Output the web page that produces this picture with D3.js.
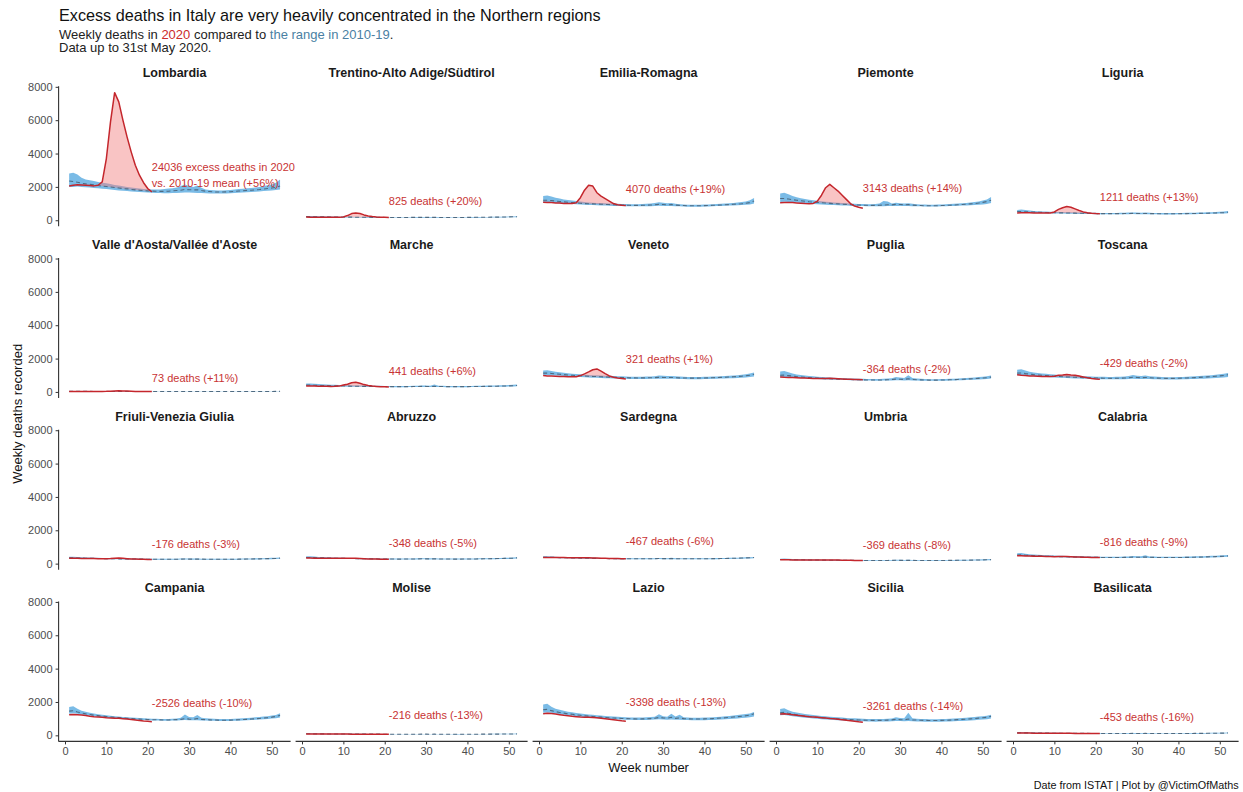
<!DOCTYPE html>
<html>
<head>
<meta charset="utf-8">
<script src="https://cdn.jsdelivr.net/npm/d3@7"></script>
<style>
  body { margin: 0; background: #fff; }
  text { font-family: "Liberation Sans", Arial, sans-serif; }
</style>
</head>
<body>
<svg id="chart" width="1243" height="792"></svg>
<script>
// regions in facet order
var regions = ["Lombardia", "Trentino-Alto Adige/Südtirol", "Emilia-Romagna", "Piemonte", "Liguria",
  "Valle d'Aosta/Vallée d'Aoste", "Marche", "Veneto", "Puglia", "Toscana",
  "Friuli-Venezia Giulia", "Abruzzo", "Sardegna", "Umbria", "Calabria",
  "Campania", "Molise", "Lazio", "Sicilia", "Basilicata"];

var labelText = [["24036 excess deaths in 2020", "vs. 2010-19 mean (+56%)"], ["825 deaths (+20%)"], ["4070 deaths (+19%)"], ["3143 deaths (+14%)"], ["1211 deaths (+13%)"],
  ["73 deaths (+11%)"], ["441 deaths (+6%)"], ["321 deaths (+1%)"], ["-364 deaths (-2%)"], ["-429 deaths (-2%)"],
  ["-176 deaths (-3%)"], ["-348 deaths (-5%)"], ["-467 deaths (-6%)"], ["-369 deaths (-8%)"], ["-816 deaths (-9%)"],
  ["-2526 deaths (-10%)"], ["-216 deaths (-13%)"], ["-3398 deaths (-13%)"], ["-3261 deaths (-14%)"], ["-453 deaths (-16%)"]];
var labelY = [2700, 1145, 1870, 1930, 1390, 840, 1265, 1990, 1385, 1750,
  1145, 1205, 1325, 1085, 1265, 1930, 1205, 1990, 1750, 1085];
var labelWeek = 21;

var weeks = [1,2,3,4,5,6,7,8,9,10,11,12,13,14,15,16,17,18,19,20,21,22,23,24,25,26,
  27,28,29,30,31,32,33,34,35,36,37,38,39,40,41,42,43,44,45,46,47,48,49,50,51,52];
var xTicks = [0, 10, 20, 30, 40, 50];
var yTicks = [0, 2000, 4000, 6000, 8000];

// weekly deaths 2020 (weeks 1-21)
var deaths2020 = [
  [2050,2100,2130,2120,2100,2080,2060,2100,2300,3700,5900,7650,7100,6000,5000,4100,3300,2700,2250,1900,1700],
  [190,185,185,180,180,180,180,180,185,200,280,400,440,400,320,260,220,195,180,175,170],
  [1080,1060,1060,1040,1030,1010,1000,1000,1050,1350,1800,2100,2050,1650,1450,1300,1150,1000,930,900,880],
  [1050,1060,1070,1060,1040,1020,1000,990,1010,1150,1500,1950,2150,1950,1750,1500,1250,1000,850,780,720],
  [440,445,450,445,440,435,430,430,440,500,650,750,820,780,680,580,500,450,420,400,390],
  [32,30,31,30,29,29,30,30,31,35,45,60,65,60,50,40,33,28,26,25,24],
  [360,355,350,345,340,335,330,335,350,420,460,550,580,520,440,390,350,330,315,305,295],
  [980,960,950,940,930,920,910,905,910,980,1080,1200,1330,1380,1250,1100,960,880,830,800,780],
  [900,880,870,860,850,840,830,820,810,800,800,810,815,805,790,775,765,755,745,740,735],
  [1030,1000,980,960,950,940,930,920,920,940,1000,1020,1050,1020,1000,950,900,850,810,780,760],
  [330,320,320,315,315,310,305,300,300,300,310,330,340,320,300,285,275,265,258,252,248],
  [340,335,330,330,325,320,318,322,330,325,320,330,320,305,295,285,280,275,270,265,262],
  [370,372,372,368,365,362,360,358,355,352,350,348,345,338,330,322,315,308,302,298,295],
  [230,228,226,224,222,220,218,216,215,214,216,220,222,218,212,206,200,196,192,190,188],
  [480,475,465,460,450,445,440,432,425,420,425,430,428,418,405,395,385,378,372,368,365],
  [1230,1250,1240,1220,1190,1150,1120,1100,1080,1050,1040,1030,1020,1000,980,950,920,890,860,840,820],
  [85,84,84,82,80,80,78,78,76,75,74,72,72,71,70,69,68,67,66,66,65],
  [1300,1330,1310,1280,1240,1200,1170,1140,1120,1100,1090,1080,1070,1050,1030,1000,970,940,900,870,850],
  [1280,1290,1270,1240,1210,1180,1150,1120,1100,1080,1060,1040,1010,990,960,930,900,870,840,810,790],
  [140,138,136,134,132,130,128,127,126,125,124,122,120,118,116,115,114,113,112,111,110]
];

// 2010-19 weekly mean
var meanDeaths = [
  [2350,2320,2280,2220,2180,2150,2120,2080,2050,2020,1990,1960,1930,
   1900,1880,1850,1820,1800,1780,1760,1750,1740,1730,1730,1740,1760,
   1780,1800,1850,1830,1820,1830,1780,1740,1720,1700,1690,1690,1700,
   1710,1730,1750,1770,1790,1800,1820,1840,1870,1900,1930,1970,2050],
  [215,215,210,205,200,200,195,195,190,190,185,185,180,
   180,178,176,174,172,170,168,166,165,165,165,166,168,
   170,172,174,172,170,170,168,166,165,165,165,166,168,
   170,172,175,178,180,182,185,188,190,195,200,205,210],
  [1200,1200,1180,1150,1120,1100,1080,1060,1040,1020,1000,990,980,
   970,960,950,940,930,920,910,900,895,890,890,895,900,
   910,925,950,940,930,935,910,890,880,870,865,865,870,
   875,885,895,905,915,925,940,955,970,990,1020,1060,1150],
  [1300,1300,1270,1230,1200,1170,1140,1110,1090,1070,1050,1030,1010,
   995,980,965,950,935,920,910,900,895,890,890,895,910,
   930,920,950,940,930,935,910,890,880,870,865,865,870,
   880,890,900,915,930,945,960,980,1000,1030,1070,1120,1200],
  [520,520,510,500,490,480,470,465,455,450,445,440,435,
   430,425,420,415,410,405,400,398,396,395,395,396,398,
   400,405,410,408,405,408,400,395,392,390,388,388,390,
   392,395,398,402,406,410,415,420,428,436,446,458,480],
  [33,33,32,32,31,31,30,30,29,29,28,28,28,
   27,27,27,26,26,26,25,25,25,25,25,25,25,
   26,26,26,26,26,26,25,25,25,25,25,25,25,
   26,26,26,27,27,27,28,28,29,29,30,31,32],
  [410,410,400,390,385,380,370,365,360,355,350,345,340,
   338,335,332,330,327,325,322,320,318,317,317,318,320,
   323,327,333,330,328,332,326,322,320,318,317,317,318,
   320,322,325,328,332,336,340,345,350,356,364,374,390],
  [1130,1130,1110,1080,1060,1040,1020,1000,985,970,955,940,930,
   920,910,900,890,880,870,860,852,846,842,840,842,846,
   852,860,875,870,862,868,855,845,838,832,828,828,832,
   838,845,852,862,872,882,895,910,925,945,970,1000,1060],
  [1000,1010,980,950,920,900,880,860,845,830,815,800,790,
   780,770,760,752,745,738,730,725,720,716,714,716,722,
   730,742,770,760,750,790,748,735,725,716,710,708,710,
   714,720,728,738,748,760,772,786,800,816,834,856,890],
  [1130,1140,1100,1070,1040,1020,1000,980,960,945,930,915,900,
   890,880,870,860,850,842,835,828,822,818,816,818,824,
   834,848,880,868,855,870,850,838,828,820,815,813,815,
   820,827,836,847,860,874,888,904,920,940,962,990,1030],
  [345,345,338,330,325,320,315,310,305,300,296,292,288,
   284,280,277,274,271,268,265,263,261,260,260,261,263,
   266,270,275,273,270,272,268,265,263,261,260,260,261,
   263,265,268,271,275,279,283,288,293,299,306,314,328],
  [370,372,362,352,345,338,332,326,320,315,310,305,301,
   297,293,290,287,284,281,278,276,274,273,273,274,276,
   279,283,290,287,284,288,281,278,276,274,273,273,274,
   276,279,282,286,290,294,299,304,310,316,324,333,348],
  [385,385,378,370,362,356,350,344,338,333,328,323,318,
   314,310,306,303,300,297,294,292,290,289,289,290,292,
   295,299,305,302,300,303,297,294,292,290,289,289,290,
   292,295,298,302,306,311,316,321,327,334,342,352,368],
  [250,250,245,240,235,230,226,222,218,215,212,209,206,
   203,201,199,197,195,193,191,190,189,188,188,189,190,
   192,195,200,198,196,199,194,192,190,189,188,188,189,
   190,192,194,197,200,203,206,210,214,219,224,230,240],
  [520,530,505,490,478,465,455,445,437,430,423,416,410,
   404,398,393,388,383,379,375,372,369,367,366,367,370,
   374,380,392,386,382,400,380,375,371,368,366,365,366,
   368,371,375,380,386,392,398,405,413,422,432,444,460],
  [1450,1480,1400,1340,1290,1250,1210,1180,1150,1125,1100,1080,1060,
   1040,1020,1005,990,975,962,950,940,932,926,922,924,930,
   940,955,1000,975,960,1010,955,940,928,918,910,906,908,
   914,922,932,945,960,976,994,1014,1036,1060,1090,1130,1200],
  [92,92,90,88,86,84,82,81,80,78,77,76,75,
   74,73,72,71,70,70,69,68,68,67,67,67,68,
   68,69,70,70,69,70,69,68,68,67,67,67,67,
   68,68,69,70,71,72,73,74,75,77,79,81,85],
  [1530,1560,1480,1420,1370,1330,1290,1260,1230,1200,1175,1150,1130,
   1110,1090,1072,1056,1040,1026,1014,1003,994,987,983,985,992,
   1004,1020,1070,1045,1030,1080,1020,1045,1000,988,980,976,978,
   985,994,1005,1020,1036,1054,1074,1096,1120,1146,1176,1214,1290],
  [1350,1380,1320,1270,1230,1190,1160,1130,1105,1080,1060,1040,1020,
   1003,987,972,958,945,933,922,912,904,898,894,896,902,
   912,926,960,940,928,980,925,915,905,897,891,888,890,
   896,904,914,926,940,955,972,990,1010,1032,1056,1084,1140],
  [150,152,148,144,140,137,134,132,130,128,126,124,122,
   120,119,118,116,115,114,113,112,111,110,110,110,111,
   112,113,115,114,113,115,112,111,110,110,109,109,110,
   110,111,112,114,115,117,119,121,124,127,130,134,140]
];

// 2010-19 weekly maximum
var highDeaths = [
  [2800,2850,2750,2550,2450,2400,2350,2300,2250,2220,2180,2120,2080,
   2040,2000,1970,1940,1910,1880,1860,1850,1840,1850,1870,1900,1920,
   1960,2050,2150,2050,2000,2080,1950,1850,1820,1800,1790,1780,1800,
   1820,1840,1870,1890,1920,1940,1970,2000,2050,2100,2150,2250,2450],
  [250,255,250,240,235,230,225,220,215,212,208,205,200,
   198,195,193,190,188,186,184,182,180,180,182,184,186,
   190,195,200,195,190,192,188,184,182,180,180,182,184,
   186,190,192,195,198,200,203,206,210,215,222,230,240],
  [1450,1480,1420,1350,1300,1250,1210,1180,1150,1120,1090,1070,1050,
   1040,1030,1020,1010,1000,990,980,970,960,960,965,975,990,
   1010,1040,1080,1050,1020,1040,990,960,945,935,930,930,935,
   940,950,960,975,990,1000,1020,1040,1060,1090,1130,1200,1330],
  [1600,1650,1560,1450,1380,1320,1270,1230,1200,1170,1140,1110,1090,
   1070,1050,1035,1020,1005,990,980,970,965,965,975,1000,1150,
   1120,1010,1050,1020,1000,1020,985,960,950,940,935,935,940,
   950,960,975,990,1005,1020,1040,1060,1090,1130,1180,1250,1400],
  [620,640,610,580,560,545,530,520,510,500,495,490,485,
   478,470,465,460,455,450,445,440,437,436,437,440,445,
   450,460,470,462,455,462,448,440,436,433,430,430,432,
   435,440,445,450,455,460,466,472,480,490,505,520,550],
  [45,46,44,42,41,40,39,38,37,37,36,36,35,
   35,34,34,33,33,33,32,32,32,32,32,32,33,
   33,34,34,34,34,34,33,33,32,32,32,32,33,
   33,34,34,35,35,36,36,37,38,38,40,41,43],
  [500,510,490,470,455,445,435,425,418,410,402,396,390,
   385,380,376,372,368,364,360,357,355,354,355,358,362,
   368,375,390,380,375,440,372,365,360,357,355,355,357,
   360,363,367,372,376,380,385,390,396,404,414,428,450],
  [1280,1300,1260,1210,1180,1150,1120,1095,1075,1055,1035,1020,1005,
   995,985,975,965,955,945,935,925,918,914,912,915,922,
   932,945,980,965,950,960,935,920,910,902,896,896,900,
   906,914,922,932,944,956,970,986,1005,1030,1060,1100,1170],
  [1230,1260,1180,1100,1050,1010,980,955,935,915,895,880,865,
   852,840,828,818,808,800,792,785,780,776,775,780,790,
   805,825,900,860,840,1000,830,800,785,772,765,762,765,
   770,778,787,798,810,824,838,854,872,892,915,945,990],
  [1330,1360,1280,1210,1170,1140,1110,1085,1060,1040,1020,1005,990,
   978,966,955,945,935,926,918,910,904,900,900,905,915,
   930,950,1010,970,955,990,940,920,905,895,888,885,888,
   894,902,912,924,938,952,968,986,1005,1030,1058,1090,1140],
  [410,420,400,385,375,365,358,350,344,338,333,328,323,
   318,314,310,306,302,298,295,292,290,289,289,291,294,
   298,303,312,307,303,308,300,296,293,291,290,290,291,
   293,296,299,303,307,312,317,323,330,338,347,358,375],
  [440,450,425,405,392,382,373,365,358,351,345,340,335,
   330,326,322,318,314,311,308,305,303,302,302,304,307,
   311,316,330,320,316,325,312,308,305,303,302,302,303,
   306,309,312,316,320,325,330,336,343,350,358,368,385],
  [440,450,430,415,405,395,387,380,373,366,360,355,350,
   345,340,336,332,328,325,322,319,317,316,316,318,321,
   325,330,340,335,330,360,327,322,319,317,316,316,318,
   320,323,327,331,336,341,347,353,360,368,377,388,405],
  [300,305,290,280,272,265,259,253,248,244,240,236,233,
   230,227,225,222,220,218,216,214,213,212,212,213,215,
   218,222,232,226,222,230,220,216,214,213,212,212,213,
   215,217,220,223,226,230,234,238,243,249,256,264,278],
  [620,640,600,570,550,535,520,507,497,488,480,472,465,
   458,451,445,439,434,429,424,420,417,415,414,416,420,
   426,434,460,445,436,500,432,424,418,414,411,410,411,
   414,418,423,429,436,443,450,458,467,478,490,503,520],
  [1700,1750,1600,1480,1410,1360,1310,1270,1235,1205,1175,1150,1128,
   1105,1085,1068,1050,1035,1020,1008,997,988,982,978,982,990,
   1005,1060,1250,1100,1080,1220,1060,1025,1005,990,980,975,978,
   986,996,1008,1022,1040,1058,1078,1100,1125,1152,1185,1225,1320],
  [115,118,112,108,105,102,100,98,96,94,92,91,90,
   89,88,87,86,85,84,83,82,82,81,81,81,82,
   83,84,86,85,84,86,84,83,82,81,81,81,81,
   82,83,84,85,86,87,88,90,92,94,96,99,104],
  [1850,1900,1720,1600,1530,1470,1420,1380,1345,1312,1282,1255,1230,
   1207,1185,1165,1147,1130,1114,1100,1087,1076,1068,1064,1068,1078,
   1094,1115,1270,1150,1120,1300,1130,1240,1090,1068,1058,1053,1056,
   1064,1075,1088,1104,1122,1142,1164,1188,1214,1243,1276,1316,1400],
  [1580,1620,1500,1420,1370,1320,1280,1245,1215,1187,1162,1140,1118,
   1098,1080,1063,1047,1032,1018,1005,994,985,978,974,977,985,
   998,1015,1090,1040,1020,1350,1020,1000,985,976,969,966,968,
   975,984,995,1008,1024,1041,1060,1080,1102,1126,1152,1182,1230],
  [185,190,180,173,168,164,160,157,154,151,149,147,145,
   143,141,139,138,136,135,134,133,132,131,131,131,132,
   134,136,140,138,136,140,134,132,131,130,130,130,130,
   131,132,134,136,138,140,142,145,148,152,156,160,168]
];

// 2010-19 weekly minimum
var lowDeaths = [
  [2000,2000,2020,2000,1980,1960,1940,1920,1890,1870,1840,1820,1790,
   1770,1750,1730,1710,1690,1680,1660,1650,1640,1630,1620,1620,1630,
   1640,1650,1660,1660,1650,1640,1630,1620,1610,1600,1600,1600,1610,
   1620,1630,1650,1670,1680,1700,1710,1730,1750,1770,1790,1820,1850],
  [185,185,182,178,175,172,170,168,166,164,162,160,158,
   157,156,154,152,151,150,149,148,147,147,147,148,149,
   150,151,152,151,150,150,149,148,147,147,147,148,149,
   150,152,154,156,158,160,162,164,166,170,173,176,180],
  [1050,1060,1050,1030,1010,1000,990,980,960,940,930,920,910,
   900,890,880,870,860,855,850,845,840,835,835,835,840,
   845,855,865,860,855,855,845,835,825,815,810,810,815,
   820,830,840,850,860,870,880,890,900,910,930,950,1000],
  [1100,1110,1100,1080,1060,1040,1020,1000,980,960,950,935,920,
   910,900,890,880,870,860,855,850,845,840,840,840,845,
   850,855,860,855,850,850,845,840,835,830,825,825,830,
   835,840,850,860,870,880,890,900,915,930,950,980,1030],
  [450,455,450,445,440,435,428,422,415,410,405,400,395,
   390,385,380,376,372,368,365,362,360,358,358,358,360,
   362,365,368,366,364,364,360,356,353,350,348,348,350,
   352,355,358,362,366,370,374,378,384,390,398,406,420],
  [22,22,22,22,22,21,21,21,20,20,20,20,20,
   19,19,19,19,19,18,18,18,18,18,18,18,18,
   19,19,19,19,19,19,18,18,18,18,18,18,18,
   19,19,19,19,20,20,20,20,21,21,22,22,23],
  [360,362,358,352,346,340,335,330,326,322,318,314,310,
   307,304,301,298,295,293,291,289,287,286,286,287,289,
   291,294,297,295,294,295,292,289,287,285,284,284,285,
   287,289,291,294,297,300,304,308,312,317,323,330,340],
  [1000,1005,995,980,965,950,935,920,905,890,878,866,855,
   845,836,827,818,810,802,795,788,782,778,776,777,780,
   785,790,798,795,790,792,785,778,772,767,763,763,766,
   771,777,784,792,800,808,818,828,840,855,872,890,920],
  [880,885,875,860,845,830,815,800,787,775,763,752,742,
   733,725,717,710,703,697,691,686,682,679,677,678,681,
   686,692,700,697,693,695,688,682,676,671,668,667,669,
   672,677,683,690,698,706,715,725,736,748,762,778,800],
  [1000,1010,995,975,955,935,918,900,885,870,857,845,833,
   822,812,803,795,787,780,774,768,763,759,757,758,762,
   768,776,786,781,776,778,770,763,757,752,748,746,748,
   751,756,762,770,778,787,797,808,820,834,850,870,900],
  [300,302,298,293,288,284,280,276,272,268,265,262,258,
   255,252,249,246,244,241,239,237,235,234,234,235,236,
   238,241,244,242,240,241,238,236,234,233,232,232,233,
   234,236,238,241,244,247,251,255,259,264,270,277,288],
  [320,322,318,312,307,302,297,292,288,284,280,276,272,
   269,266,263,260,258,255,253,251,249,248,248,249,250,
   252,255,258,256,254,256,252,250,248,247,246,246,247,
   248,250,253,256,259,262,266,270,274,279,285,292,302],
  [340,342,338,333,327,321,316,311,306,301,297,293,289,
   285,281,278,275,272,269,267,265,263,262,262,263,264,
   266,269,272,270,268,270,266,264,262,261,260,260,261,
   262,264,267,270,274,278,282,287,292,298,305,313,325],
  [215,216,212,208,204,200,197,194,191,188,185,183,181,
   179,177,175,173,172,170,169,168,167,166,166,167,168,
   169,171,173,172,171,172,170,168,167,166,166,166,167,
   168,169,171,173,175,178,180,183,186,190,194,199,206],
  [460,465,455,443,433,423,414,406,399,392,386,380,374,
   369,364,359,354,350,346,342,339,337,335,334,335,337,
   340,344,350,347,344,346,341,338,335,333,332,331,332,
   334,337,340,344,349,354,359,365,371,378,386,395,408],
  [1300,1320,1290,1250,1210,1175,1140,1110,1085,1060,1040,1020,1000,
   985,970,955,942,930,918,907,897,889,883,879,880,885,
   893,903,915,908,900,910,895,885,876,868,862,858,860,
   865,872,880,890,902,915,930,946,964,984,1006,1030,1070],
  [75,76,75,73,72,71,70,69,68,67,66,65,64,
   63,62,62,61,60,60,59,59,58,58,58,58,58,
   59,59,60,60,59,60,59,58,58,58,57,57,58,
   58,59,59,60,61,61,62,63,64,65,67,69,72],
  [1350,1370,1350,1310,1270,1235,1200,1170,1143,1117,1093,1070,1050,
   1032,1015,999,984,970,957,946,936,928,922,918,920,925,
   933,944,958,950,942,950,936,940,922,913,906,902,904,
   910,918,927,938,950,964,979,996,1014,1035,1058,1084,1130],
  [1200,1215,1190,1150,1115,1085,1060,1035,1012,990,972,955,938,
   923,908,895,882,870,859,849,840,832,826,822,824,829,
   837,848,862,855,848,856,843,835,827,820,815,812,814,
   819,826,834,844,855,867,881,896,912,930,950,972,1010],
  [125,126,124,121,118,116,114,112,110,108,107,105,104,
   102,101,100,99,98,97,96,95,95,94,94,94,95,
   95,96,97,97,96,97,95,95,94,94,93,93,94,
   94,95,96,97,98,100,101,103,105,107,110,113,118]
];

var width = 1243, height = 792;
var ncol = 5;
var panelLeft = 58.6, colStep = 237, pw = 232;
var panelTop = 86.3, rowStep = 171.7, ph = 140;

var red = "#c4262c", blue = "#4ea4de", meanCol = "#4f6b82", labelCol = "#c83333";

var svg = d3.select("#chart");

// ggplot-style 5% expansion
var xPad = (d3.max(weeks) - d3.min(weeks)) * 0.05;
var x = d3.scaleLinear()
  .domain([d3.min(weeks) - xPad, d3.max(weeks) + xPad])
  .range([0, pw]);

var yMin = d3.min(lowDeaths, function(r) { return d3.min(r); });
var yMax = d3.max([d3.max(highDeaths, function(r) { return d3.max(r); }),
                   d3.max(deaths2020, function(r) { return d3.max(r); })]);
var yPad = (yMax - yMin) * 0.05;
var y = d3.scaleLinear()
  .domain([yMin - yPad, yMax + yPad])
  .range([ph, 0]);

var ribbon = d3.area()
  .x(function(d) { return x(d.week); })
  .y0(function(d) { return y(d.lo); })
  .y1(function(d) { return y(d.hi); });

var excess = d3.area()
  .x(function(d) { return x(d.week); })
  .y0(function(d) { return y(d.mean); })
  .y1(function(d) { return y(Math.max(d.mean, d.v)); });

var meanLine = d3.line()
  .x(function(d) { return x(d.week); })
  .y(function(d) { return y(d.mean); });

var line2020 = d3.line()
  .x(function(d) { return x(d.week); })
  .y(function(d) { return y(d.v); });

regions.forEach(function(name, i) {
  var col = i % ncol, row = Math.floor(i / ncol);
  var nrow = Math.ceil(regions.length / ncol);
  var g = svg.append("g")
    .attr("transform", "translate(" + (panelLeft + col * colStep) + "," + (panelTop + row * rowStep) + ")");

  var hist = weeks.map(function(w, k) {
    return {week: w, lo: lowDeaths[i][k], hi: highDeaths[i][k], mean: meanDeaths[i][k]};
  });
  var cur = deaths2020[i].map(function(v, k) {
    return {week: weeks[k], v: v, mean: meanDeaths[i][k]};
  });

  g.append("path").datum(hist)
    .attr("d", ribbon)
    .attr("fill", blue)
    .attr("fill-opacity", 0.75);

  g.append("path").datum(cur)
    .attr("d", excess)
    .attr("fill", "#f27c7c")
    .attr("fill-opacity", 0.45);

  g.append("path").datum(hist)
    .attr("d", meanLine)
    .attr("fill", "none")
    .attr("stroke", meanCol)
    .attr("stroke-width", 1.1)
    .attr("stroke-dasharray", "4,3");

  g.append("path").datum(cur)
    .attr("d", line2020)
    .attr("fill", "none")
    .attr("stroke", red)
    .attr("stroke-width", 1.5)
    .attr("stroke-linejoin", "round");

  // annotation
  var lines = labelText[i];
  var lab = g.append("text")
    .attr("x", x(labelWeek))
    .attr("y", y(labelY[i]))
    .attr("fill", labelCol)
    .attr("font-size", "11px");
  lines.forEach(function(t, j) {
    lab.append("tspan")
      .attr("x", x(labelWeek))
      .attr("dy", j === 0 ? (0.35 - (lines.length - 1) * 0.75) + "em" : "1.5em")
      .text(t);
  });

  // strip title
  svg.append("text")
    .attr("x", panelLeft + col * colStep + pw / 2)
    .attr("y", panelTop + row * rowStep - 9)
    .attr("text-anchor", "middle")
    .attr("font-size", "12.5px")
    .attr("font-weight", "bold")
    .attr("fill", "#1a1a1a")
    .text(name);

  if (col === 0) {
    var ya = g.append("g")
      .call(d3.axisLeft(y).tickValues(yTicks).tickSize(3).tickPadding(3).tickFormat(d3.format("d")));
    ya.select(".domain").attr("stroke", "#333").attr("stroke-width", 1.1)
      .attr("d", "M0,0V" + ph);
    ya.selectAll(".tick line").attr("stroke", "#333");
    ya.selectAll(".tick text").attr("fill", "#4d4d4d").attr("font-size", "11px")
      .attr("font-family", "Liberation Sans, Arial, sans-serif");
  }
  if (row === nrow - 1) {
    var xa = g.append("g")
      .attr("transform", "translate(0," + ph + ")")
      .call(d3.axisBottom(x).tickValues(xTicks).tickSize(3).tickPadding(3));
    xa.select(".domain").attr("stroke", "#333").attr("stroke-width", 1.1)
      .attr("d", "M0,0H" + pw);
    xa.selectAll(".tick line").attr("stroke", "#333");
    xa.selectAll(".tick text").attr("fill", "#4d4d4d").attr("font-size", "11px")
      .attr("font-family", "Liberation Sans, Arial, sans-serif");
  }
});

// titles
svg.append("text")
  .attr("x", 59).attr("y", 21)
  .attr("font-size", "16.2px").attr("fill", "#111")
  .text("Excess deaths in Italy are very heavily concentrated in the Northern regions");

var sub = svg.append("text")
  .attr("x", 59).attr("y", 39)
  .attr("font-size", "13px").attr("fill", "#222");
sub.append("tspan").text("Weekly deaths in ");
sub.append("tspan").attr("fill", "#cc2a2a").text("2020");
sub.append("tspan").text(" compared to ");
sub.append("tspan").attr("fill", "#4a7fa3").text("the range in 2010-19");
sub.append("tspan").text(".");

svg.append("text")
  .attr("x", 59).attr("y", 52)
  .attr("font-size", "13px").attr("fill", "#222")
  .text("Data up to 31st May 2020.");

var plotBottom = panelTop + (Math.ceil(regions.length / ncol) - 1) * rowStep + ph;
svg.append("text")
  .attr("transform", "translate(22," + ((panelTop + plotBottom) / 2) + ") rotate(-90)")
  .attr("text-anchor", "middle")
  .attr("font-size", "13px").attr("fill", "#111")
  .text("Weekly deaths recorded");

svg.append("text")
  .attr("x", panelLeft + (4 * colStep + pw) / 2)
  .attr("y", plotBottom + 31)
  .attr("text-anchor", "middle")
  .attr("font-size", "13px").attr("fill", "#111")
  .text("Week number");

svg.append("text")
  .attr("x", panelLeft + 4 * colStep + pw)
  .attr("y", 789)
  .attr("text-anchor", "end")
  .attr("font-size", "10.8px").attr("fill", "#111")
  .text("Date from ISTAT | Plot by @VictimOfMaths");
</script>
</body>
</html>
